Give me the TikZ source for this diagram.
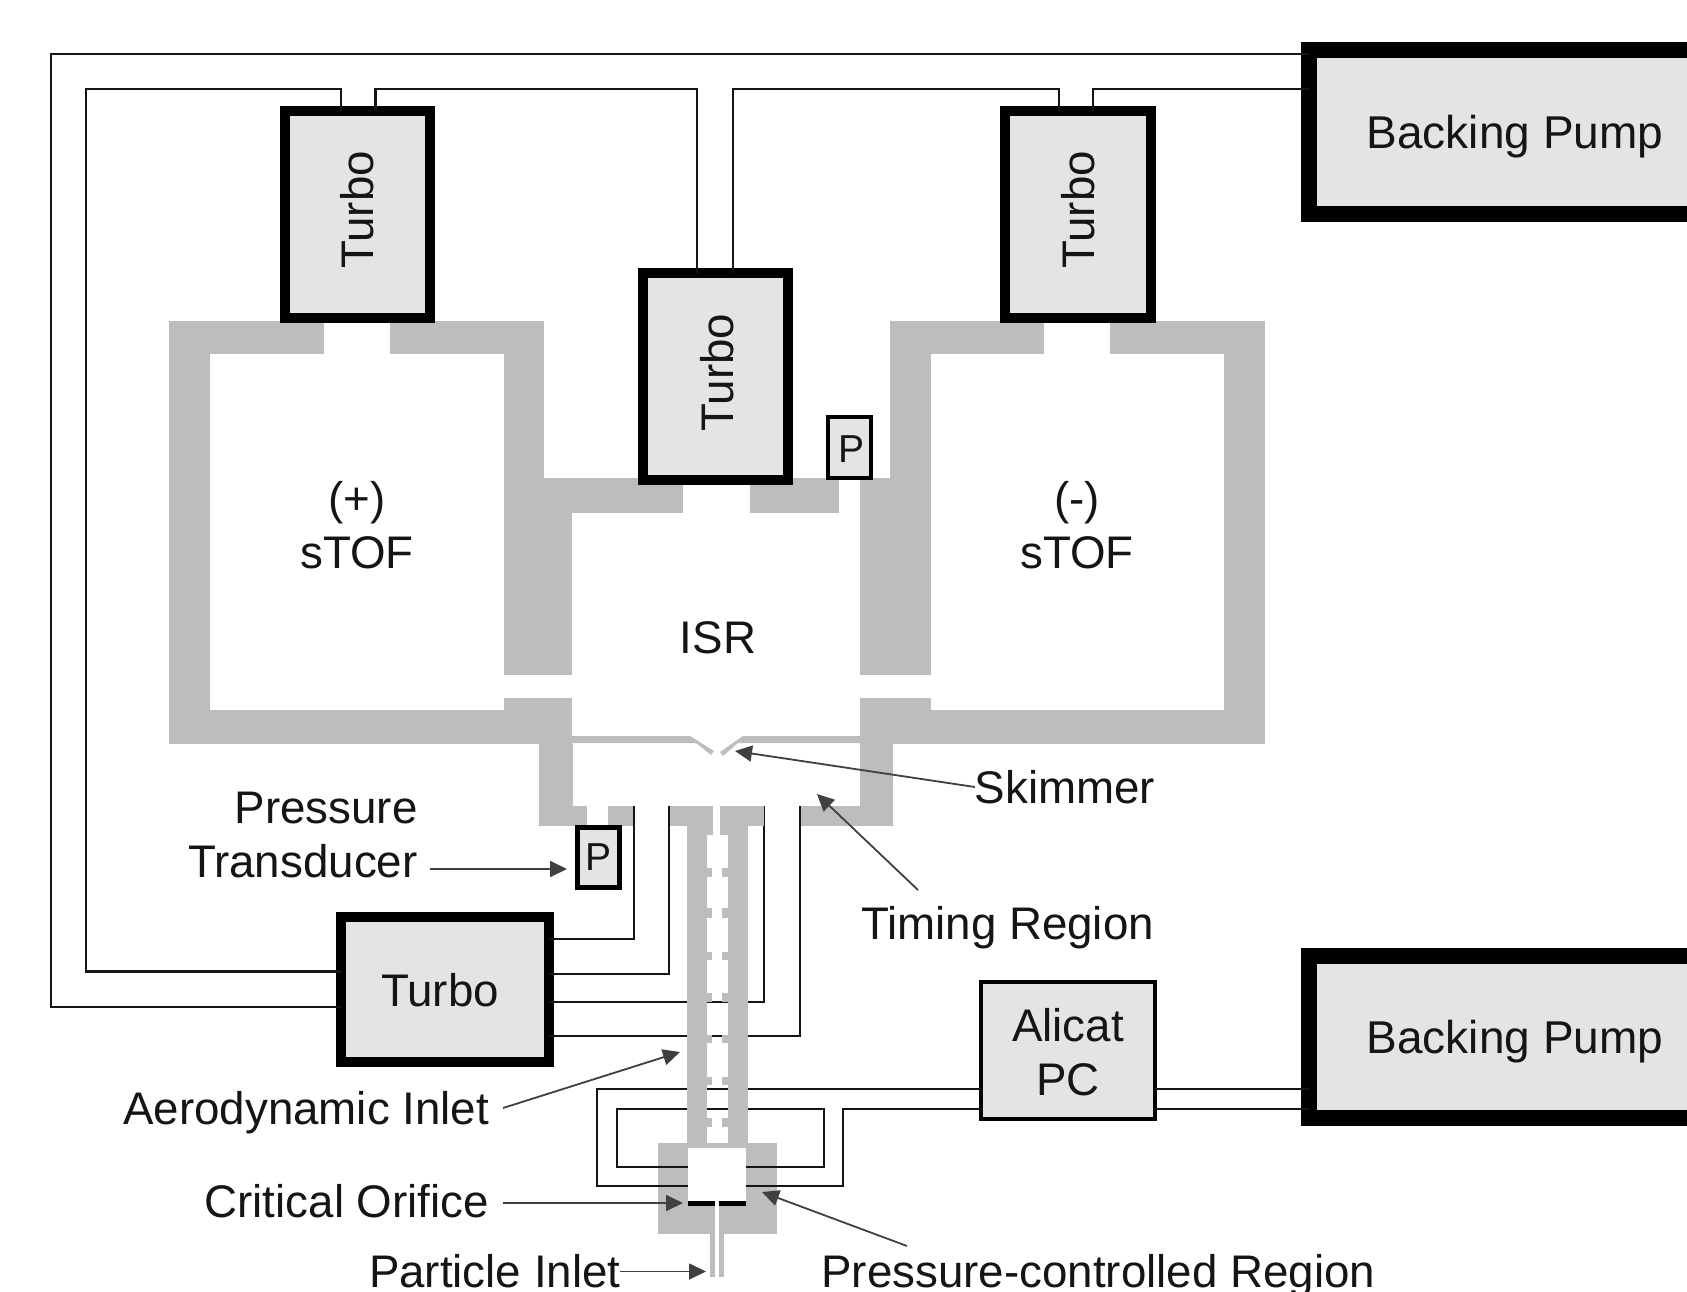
\documentclass[tikz,border=0pt]{standalone}
\usepackage{fontspec}
\setmainfont{Liberation Sans}
\usetikzlibrary{arrows.meta}
\definecolor{wallgray}{HTML}{BDBDBD}
\definecolor{boxgray}{HTML}{E4E4E4}
\definecolor{inkdark}{HTML}{151515}
\definecolor{leadgray}{HTML}{404040}
\newcommand{\wallrect}[4]{\fill[wallgray] (#1,#2) rectangle (#3,#4);}
\tikzset{
  labeltext/.style={font=\fontsize{45.7pt}{54pt}\selectfont,text=inkdark,inner sep=0pt,outer sep=0pt,text depth=0pt},
  box/.style={draw=black,fill=boxgray,rectangle,inner sep=0pt,labeltext},
  turbobox/.style={box,line width=10pt},
  pumpbox/.style={box,line width=16pt,minimum width=412pt,font=\fontsize{46pt}{54pt}\selectfont},
  gaugebox/.style={box,font=\fontsize{39pt}{45pt}\selectfont},
  pipe/.style={draw=inkdark,line width=2.8pt,line join=miter},
  lead/.style={draw=leadgray,line width=1.8pt,-{Triangle[length=17pt,width=16pt]}},
}
\begin{document}
\begin{tikzpicture}[x=1pt,y=-1pt]
\useasboundingbox (0,0) rectangle (1687,1292);
\clip (0,0) rectangle (1687,1292);
\fill[white] (0,0) rectangle (1687,1292);
% --- left sTOF walls
\wallrect{169}{320.6}{324}{354}
\wallrect{389.5}{320.6}{544}{354}
\wallrect{169}{320.6}{210}{744}
\wallrect{503.5}{320.6}{544}{478}
\wallrect{503.5}{478}{572}{675}
\wallrect{169}{710}{572}{744}
\wallrect{503.5}{698}{572}{710}
% --- ISR top
\wallrect{544}{478}{683}{512.7}
\wallrect{750}{478}{839}{512.7}
% --- right sTOF walls
\wallrect{890}{320.6}{1044}{354}
\wallrect{1110}{320.6}{1265}{354}
\wallrect{1224}{320.6}{1265}{744}
\wallrect{890}{320.6}{930.7}{478}
\wallrect{860}{478}{930.7}{675}
\wallrect{860}{710}{1265}{744}
\wallrect{860}{698}{930.7}{710}
% --- timing region walls
\wallrect{539}{744}{573}{826}
\wallrect{860}{744}{893}{826}
\wallrect{539}{806}{587}{826}
\wallrect{608}{806}{634}{826}
\wallrect{800}{806}{860}{826}
% --- skimmer
\fill[wallgray] (572,736) -- (690,736) -- (714,751) -- (711,755) -- (696,743) -- (572,743) -- cycle;
\fill[wallgray] (860,736) -- (743,736) -- (720,752) -- (723,756) -- (738,743) -- (860,743) -- cycle;
% --- particle inlet block
\wallrect{658}{1143}{777}{1234}
\fill[white] (688,1148) rectangle (746,1203);
\fill[white] (715,1203) rectangle (719,1234);
\wallrect{710}{1234}{715}{1277}
\wallrect{719}{1234}{724}{1277}
\fill[black] (688,1200.5) rectangle (715,1206);
\fill[black] (719,1200.5) rectangle (746,1206);
% --- boxes
\node[turbobox,minimum width=145pt,minimum height=207pt,text depth=9.4pt] (turboL) at (357.5,214.5) {\rotatebox{90}{Turbo}};
\node[turbobox,minimum width=145pt,minimum height=207pt,text depth=7.5pt] (turboC) at (715.5,376.5) {\hspace*{3pt}\rotatebox{90}{Turbo}};
\node[turbobox,minimum width=146pt,minimum height=207pt,text depth=9.4pt] (turboR) at (1078,214.5) {\rotatebox{90}{Turbo}};
\node[turbobox,minimum width=208pt,minimum height=145pt,text height=34pt] (turboB) at (445,989.5) {Turbo\hspace*{10pt}};
\node[pumpbox,minimum height=164pt] (pumpT) at (1515,132) {Backing Pump};
\node[pumpbox,minimum height=162pt] (pumpB) at (1515,1037) {Backing Pump};
\node[box,line width=4pt,minimum width=174pt,minimum height=137pt,align=center] (alicat) at (1068,1050.5) {\rule{0pt}{35.5pt}Alicat\\PC};
\node[gaugebox,line width=4pt,minimum width=43pt,minimum height=61pt,text height=30pt] (gaugeU) at (849.5,447.5) {\hspace*{4pt}P};
\node[gaugebox,line width=5pt,minimum width=42pt,minimum height=60pt] (gaugeL) at (598.5,857.5) {P};
% --- named free ends of the pipes
\coordinate (tA) at (634,806);
\coordinate (tB) at (669,806);
\coordinate (tC) at (764,806);
\coordinate (tD) at (800,806);
\coordinate (iL) at (688,1186);
\coordinate (iR) at (746,1186);
\coordinate (jL) at (688,1167);
\coordinate (jR) at (746,1167);
% --- backing lines
\draw[pipe] (pumpT.west |- 0,54) -- (51,54) -- (51,1007) -- (turboB.west |- 0,1007);
\draw[pipe] (turboB.west |- 0,971.5) -- (86,971.5) -- (86,89) -- (341,89) -- (turboL.north -| 341,0);
\draw[pipe] (turboL.north -| 375.5,0) -- (375.5,89) -- (697,89) -- (turboC.north -| 697,0);
\draw[pipe] (turboC.north -| 733,0) -- (733,89) -- (1059,89) -- (turboR.north -| 1059,0);
\draw[pipe] (turboR.north -| 1093,0) -- (1093,89) -- (pumpT.west |- 0,89);
\draw[pipe] (turboB.east |- 0,939) -| (tA);
\draw[pipe] (turboB.east |- 0,974) -| (tB);
\draw[pipe] (turboB.east |- 0,1002) -| (tC);
\draw[pipe] (turboB.east |- 0,1036) -| (tD);
\draw[pipe] (alicat.west |- 0,1089) -- (597,1089) -- (597,1186) -- (iL);
\draw[pipe] (alicat.west |- 0,1109) -- (843,1109) -- (843,1186) -- (iR);
\draw[pipe] (jL) -- (617,1167) -- (617,1109) -- (824,1109) -- (824,1167) -- (jR);
\draw[pipe] (alicat.east |- 0,1089) -- (pumpB.west |- 0,1089);
\draw[pipe] (alicat.east |- 0,1109) -- (pumpB.west |- 0,1109);
% --- aerodynamic lens tube, over the pipes
\wallrect{670}{806}{713}{826}
\wallrect{720}{806}{764}{826}
\wallrect{687}{826}{713}{835}
\wallrect{720}{826}{748}{835}
\wallrect{687}{826}{707}{1148}
\wallrect{728}{826}{748}{1148}
\foreach \ya/\yb in {868/877,908/918,952/960,993/1002,1035/1043,1077/1085,1118/1127}{
  \wallrect{706}{\ya}{712}{\yb}
  \wallrect{722}{\ya}{729}{\yb}
}
% --- labels
\node[labeltext,align=center] (plusTOF) at (357,525) {(+)\\sTOF};
\node[labeltext,align=center] (minusTOF) at (1077,525) {(-)\\sTOF};
\node[labeltext] (isr) at (718,638) {ISR};
\node[labeltext,align=right,anchor=east] (transducer) at (417.5,835) {Pressure\\Transducer};
\node[labeltext] (skimmer) at (1065,787) {Skimmer};
\node[labeltext] (timing) at (1007.5,923) {Timing Region};
\node[labeltext,anchor=east] (aero) at (489,1108) {Aerodynamic Inlet};
\node[labeltext,anchor=east] (critical) at (489,1200.7) {Critical Orifice};
\node[labeltext,anchor=west] (particle) at (369,1271) {Particle Inlet};
\node[labeltext,anchor=west] (pressreg) at (821.5,1271) {Pressure-controlled Region};
% --- named free ends of the leader arrows
\coordinate (tipSkim) at (735,751);
\coordinate (tipTime) at (817,794);
\coordinate (tipAero) at (680,1052);
\coordinate (tipCrit) at (683,1203);
\coordinate (tipPart) at (706,1271.5);
\coordinate (tipPress) at (762,1192);
\coordinate (tipTrans) at (567,869);
\coordinate (startTrans) at (430,869);
\coordinate (startTime) at (918,890);
\coordinate (startPress) at (907,1246);
\draw[lead] (startTrans) -- (tipTrans);
\draw[lead] (skimmer.west) -- (tipSkim);
\draw[lead] (startTime) -- (tipTime);
\draw[lead] ([xshift=14pt]aero.east) -- (tipAero);
\draw[lead] ([xshift=14pt]critical.east |- tipCrit) -- (tipCrit);
\draw[lead] (particle.east |- tipPart) -- (tipPart);
\draw[lead] (startPress) -- (tipPress);
\end{tikzpicture}
\end{document}
